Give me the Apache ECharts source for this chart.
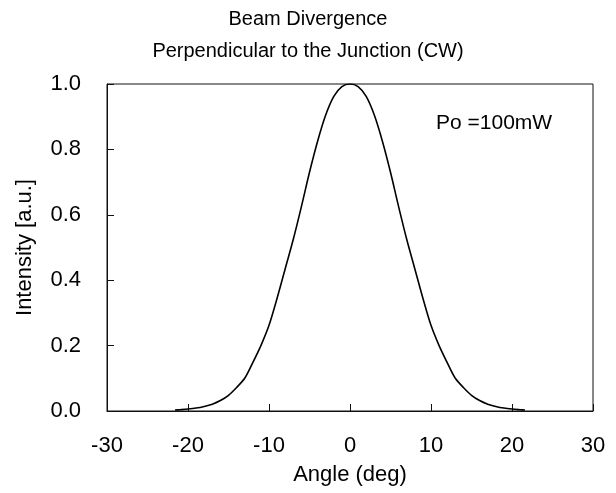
<!DOCTYPE html>
<html>
<head>
<meta charset="utf-8">
<script src="https://cdn.jsdelivr.net/npm/echarts@6/dist/echarts.min.js"></script>
<style>
  html, body { margin: 0; padding: 0; background: #fff; }
  #chart { width: 616px; height: 493px; }
</style>
</head>
<body>
<div id="chart"></div>
<script>
// angle (deg) and relative intensity
const angles = [-21.6, -21, -20, -19, -18, -17, -16, -15, -14, -13, -12, -11, -10, -9, -8, -7, -6, -5, -4, -3, -2, -1, 0,
  1, 2, 3, 4, 5, 6, 7, 8, 9, 10, 11, 12, 13, 14, 15, 16, 17, 18, 19, 20, 21, 21.6];
const intensity = [0.003, 0.004, 0.006, 0.009, 0.014, 0.021, 0.032, 0.048, 0.072, 0.100, 0.148, 0.200, 0.262, 0.345, 0.435, 0.525, 0.625, 0.730, 0.825, 0.905, 0.962, 0.992, 1.000,
  0.992, 0.962, 0.905, 0.825, 0.730, 0.625, 0.525, 0.435, 0.345, 0.262, 0.200, 0.148, 0.100, 0.072, 0.048, 0.032, 0.021, 0.014, 0.009, 0.006, 0.004, 0.003];

const xTicks = [-30, -20, -10, 0, 10, 20, 30];
const yTicks = [0.0, 0.2, 0.4, 0.6, 0.8, 1.0];

const font = "'Liberation Sans', Arial, sans-serif";

const chart = echarts.init(document.getElementById("chart"));
chart.setOption({
  animation: false,
  backgroundColor: "#fff",
  textStyle: { fontFamily: font, color: "#000" },
  title: {
    text: "Beam Divergence\nPerpendicular to the Junction (CW)",
    left: "center",
    top: -2,
    textStyle: { fontFamily: font, fontSize: 20, fontWeight: "normal", color: "#000", lineHeight: 32 }
  },
  grid: {
    left: 107, right: 23, top: 84, bottom: 82,
    show: true, borderColor: "#111", borderWidth: 1, backgroundColor: "transparent"
  },
  xAxis: {
    type: "value",
    min: xTicks[0], max: xTicks[xTicks.length - 1], interval: 10,
    name: "Angle (deg)", nameLocation: "middle", nameGap: 53,
    nameTextStyle: { fontFamily: font, fontSize: 22, color: "#000" },
    axisLine: { onZero: false, lineStyle: { color: "#111", width: 1 } },
    axisTick: { inside: true, length: 7, lineStyle: { color: "#111" } },
    axisLabel: { margin: 24, fontSize: 22, color: "#000", fontFamily: font },
    splitLine: { show: false }
  },
  yAxis: {
    type: "value",
    min: yTicks[0], max: yTicks[yTicks.length - 1], interval: 0.2,
    name: "Intensity [a.u.]", nameLocation: "middle", nameGap: 71, nameRotate: 90,
    nameTextStyle: { fontFamily: font, fontSize: 22, color: "#000" },
    axisLine: { show: true, onZero: false, lineStyle: { color: "#111", width: 1 } },
    axisTick: { show: true, inside: true, length: 7, lineStyle: { color: "#111" } },
    axisLabel: { margin: 26, fontSize: 22, color: "#000", fontFamily: font, formatter: v => v.toFixed(1) },
    splitLine: { show: false }
  },
  graphic: [{
    type: "text",
    left: 436, top: 113,
    style: { text: "Po =100mW", fontSize: 21, fontFamily: font, fill: "#000" }
  }],
  series: [{
    type: "line",
    data: angles.map((a, i) => [a, intensity[i]]),
    showSymbol: false,
    smooth: 0.3,
    lineStyle: { color: "#000", width: 1.6 }
  }]
});
</script>
</body>
</html>
